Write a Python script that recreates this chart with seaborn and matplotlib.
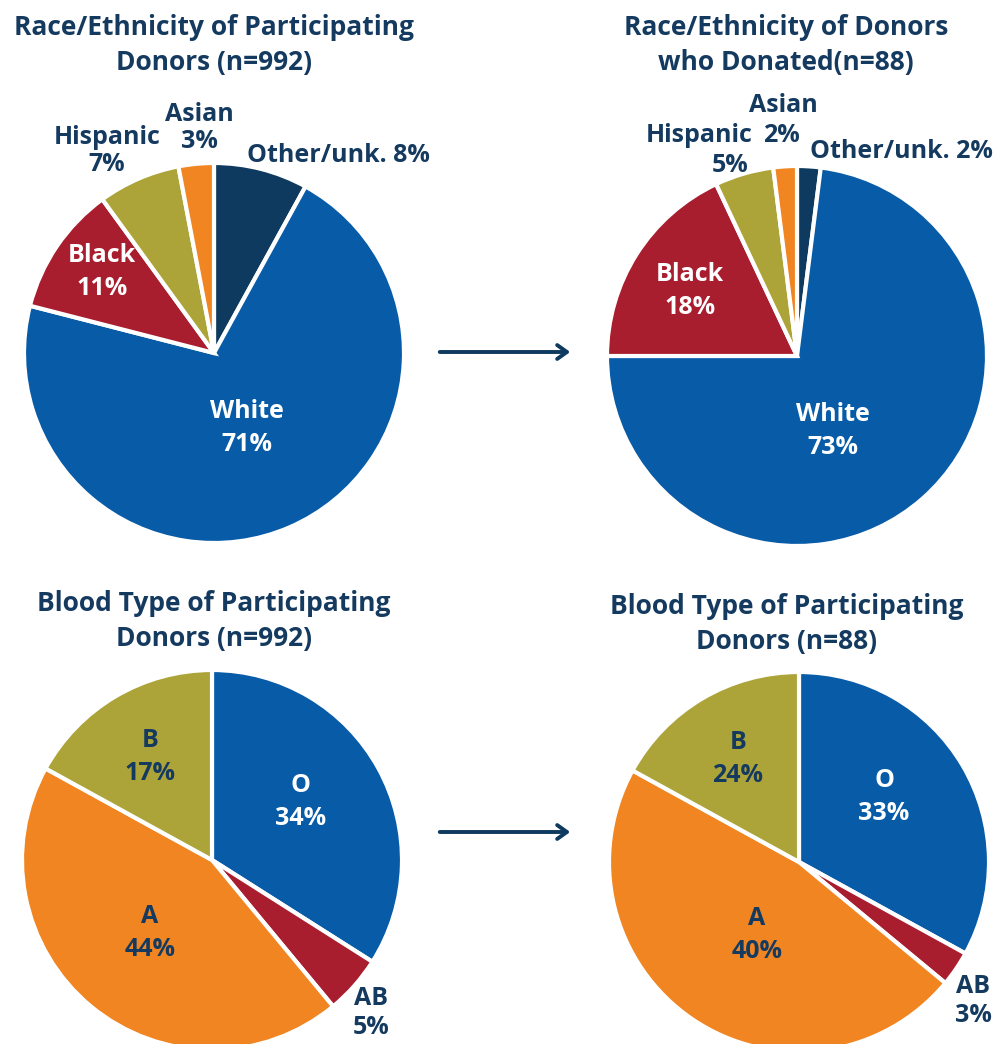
import matplotlib
matplotlib.use("Agg")
import matplotlib.pyplot as plt
import seaborn as sns

sns.set_theme(style="white")
plt.rcParams['font.family'] = ['Open Sans', 'DejaVu Sans']

W, H = 998, 1044

BLUE = "#075BA7"
NAVY = "#0D3A5E"
RED = "#A91E2F"
OLIVE = "#ACA438"
ORANGE = "#F08522"
TXT = "#153A60"

# Data
race_cats = ["Other/unk.", "White", "Black", "Hispanic", "Asian"]
race_part = [8, 71, 11, 7, 3]
race_don = [2, 73, 18, 5, 2]
race_colors = [NAVY, BLUE, RED, OLIVE, ORANGE]

blood_cats = ["O", "AB", "A", "B"]
blood_part = [34, 5, 44, 17]
# slice sizes as drawn in the reference (labels there read 33/3/40/24)
blood_don_drawn = [33, 3, 47, 17]
blood_don_labels = [33, 3, 40, 24]
blood_colors = [BLUE, RED, ORANGE, OLIVE]

titles = ["Race/Ethnicity of Participating\nDonors (n=992)",
          "Race/Ethnicity of Donors\nwho Donated(n=88)",
          "Blood Type of Participating\nDonors (n=992)",
          "Blood Type of Participating\nDonors (n=88)"]

fig = plt.figure(figsize=(W / 100, H / 100), dpi=100)

TS = 19
LS = 18


def add_pie(cx, cy, r, values, colors):
    ax = fig.add_axes([(cx - r) / W, 1 - (cy + r) / H, 2 * r / W, 2 * r / H])
    ax.pie(values, colors=colors, startangle=90, counterclock=False,
           wedgeprops=dict(edgecolor="white", linewidth=3), radius=1.0)
    ax.set_xlim(-1, 1)
    ax.set_ylim(-1, 1)
    ax.set_aspect("auto")
    ax.axis("off")
    return ax


def txt(x, y, s, color=TXT, size=LS, ha="center", ls=1.38):
    fig.text(x / W, 1 - y / H, s, color=color, fontsize=size, fontweight="bold",
             ha=ha, va="center", linespacing=ls)


add_pie(214, 353, 190, race_part, race_colors)
add_pie(797, 356, 190, race_don, race_colors)
add_pie(212, 860, 190, blood_part, blood_colors)
add_pie(799, 862, 190, blood_don_drawn, blood_colors)

# Titles
txt(214, 45, titles[0], size=TS, ls=1.36)
txt(786, 45, titles[1], size=TS, ls=1.36)
txt(214, 621, titles[2], size=TS, ls=1.36)
txt(787, 624, titles[3], size=TS, ls=1.36)

# Top-left labels
txt(107, 151, f"{race_cats[3]}\n{race_part[3]}%", ls=1.15)
txt(199, 128, f"{race_cats[4]}\n{race_part[4]}%", ls=1.15)
txt(247, 155, f"{race_cats[0]} {race_part[0]}%", ha="left")
txt(102, 272, f"{race_cats[2]}\n{race_part[2]}%", color="white")
txt(247, 428, f"{race_cats[1]}\n{race_part[1]}%", color="white")

# Top-right labels
txt(699, 135, race_cats[3])
txt(730, 165, f"{race_don[3]}%")
txt(783, 106, race_cats[4])
txt(781, 136, f"{race_don[4]}%")
txt(810, 152, f"{race_cats[0]} {race_don[0]}%", ha="left")
txt(690, 291, f"{race_cats[2]}\n{race_don[2]}%", color="white")
txt(833, 431, f"{race_cats[1]}\n{race_don[1]}%", color="white")

# Bottom-left labels
txt(150, 757, f"{blood_cats[3]}\n{blood_part[3]}%")
txt(301, 802, f"{blood_cats[0]}\n{blood_part[0]}%", color="white")
txt(150, 933, f"{blood_cats[2]}\n{blood_part[2]}%")
txt(371, 1013, f"{blood_cats[1]}\n{blood_part[1]}%", ls=1.2)

# Bottom-right labels
txt(738, 759, f"{blood_cats[3]}\n{blood_don_labels[3]}%")
txt(884, 797, f"{blood_cats[0]}\n{blood_don_labels[0]}%", color="white")
txt(757, 935, f"{blood_cats[2]}\n{blood_don_labels[2]}%")
txt(973, 1001, f"{blood_cats[1]}\n{blood_don_labels[1]}%", ls=1.2)

# Arrows
for ay in (352, 832):
    fig.add_artist(matplotlib.patches.FancyArrowPatch(
        (437 / W, 1 - ay / H), (573 / W, 1 - ay / H), transform=fig.transFigure,
        arrowstyle="->,head_length=7,head_width=5", color=NAVY, lw=2.8,
        mutation_scale=1))

fig.savefig("out.png", dpi=100)
